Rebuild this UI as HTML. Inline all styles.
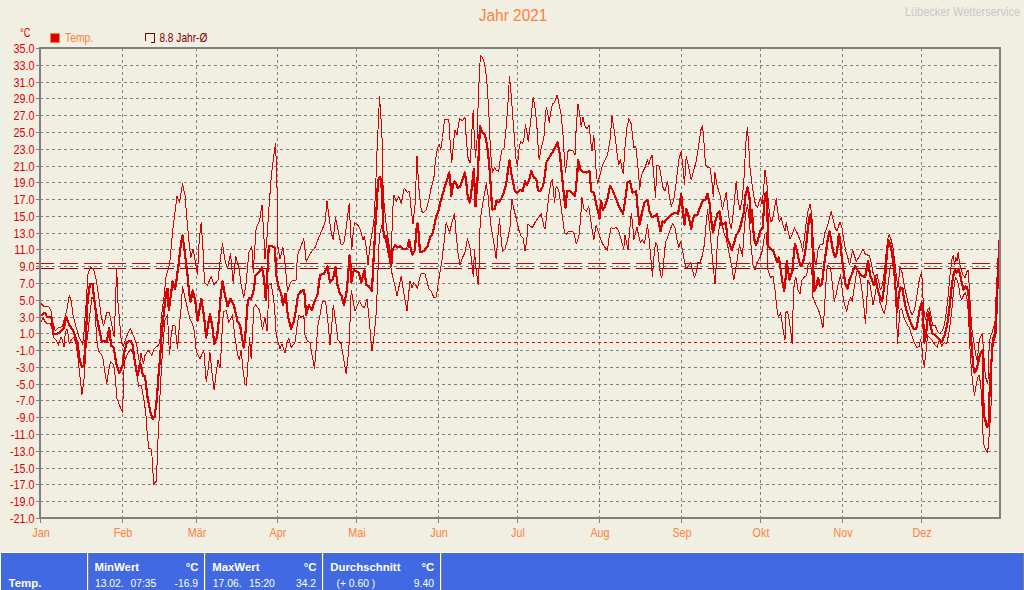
<!DOCTYPE html>
<html><head><meta charset="utf-8"><title>Jahr 2021</title>
<style>
html,body{margin:0;padding:0;}
body{width:1024px;height:590px;background:#f1efe2;position:relative;overflow:hidden;font-family:"Liberation Sans",sans-serif;font-size:12px;color:#fff;}
</style></head><body>
<svg width="1024" height="590" viewBox="0 0 1024 590" style="position:absolute;left:0;top:0">
<g shape-rendering="crispEdges" stroke="#808080" stroke-width="1" fill="none">
<line x1="40" y1="65.5" x2="997" y2="65.5" stroke-dasharray="3 3"/>
<line x1="40" y1="82.5" x2="997" y2="82.5" stroke-dasharray="3 3"/>
<line x1="40" y1="98.5" x2="997" y2="98.5" stroke-dasharray="3 3"/>
<line x1="40" y1="115.5" x2="997" y2="115.5" stroke-dasharray="3 3"/>
<line x1="40" y1="132.5" x2="997" y2="132.5" stroke-dasharray="3 3"/>
<line x1="40" y1="149.5" x2="997" y2="149.5" stroke-dasharray="3 3"/>
<line x1="40" y1="166.5" x2="997" y2="166.5" stroke-dasharray="3 3"/>
<line x1="40" y1="182.5" x2="997" y2="182.5" stroke-dasharray="3 3"/>
<line x1="40" y1="199.5" x2="997" y2="199.5" stroke-dasharray="3 3"/>
<line x1="40" y1="216.5" x2="997" y2="216.5" stroke-dasharray="3 3"/>
<line x1="40" y1="233.5" x2="997" y2="233.5" stroke-dasharray="3 3"/>
<line x1="40" y1="249.5" x2="997" y2="249.5" stroke-dasharray="3 3"/>
<line x1="40" y1="266.5" x2="997" y2="266.5" stroke-dasharray="3 3"/>
<line x1="40" y1="283.5" x2="997" y2="283.5" stroke-dasharray="3 3"/>
<line x1="40" y1="300.5" x2="997" y2="300.5" stroke-dasharray="3 3"/>
<line x1="40" y1="317.5" x2="997" y2="317.5" stroke-dasharray="3 3"/>
<line x1="40" y1="333.5" x2="997" y2="333.5" stroke-dasharray="3 3"/>
<line x1="40" y1="350.5" x2="997" y2="350.5" stroke-dasharray="3 3"/>
<line x1="40" y1="367.5" x2="997" y2="367.5" stroke-dasharray="3 3"/>
<line x1="40" y1="384.5" x2="997" y2="384.5" stroke-dasharray="3 3"/>
<line x1="40" y1="400.5" x2="997" y2="400.5" stroke-dasharray="3 3"/>
<line x1="40" y1="417.5" x2="997" y2="417.5" stroke-dasharray="3 3"/>
<line x1="40" y1="434.5" x2="997" y2="434.5" stroke-dasharray="3 3"/>
<line x1="40" y1="451.5" x2="997" y2="451.5" stroke-dasharray="3 3"/>
<line x1="40" y1="468.5" x2="997" y2="468.5" stroke-dasharray="3 3"/>
<line x1="40" y1="484.5" x2="997" y2="484.5" stroke-dasharray="3 3"/>
<line x1="40" y1="501.5" x2="997" y2="501.5" stroke-dasharray="3 3"/>
<line x1="122.5" y1="48" x2="122.5" y2="517" stroke-dasharray="3 3"/>
<line x1="196.5" y1="48" x2="196.5" y2="517" stroke-dasharray="3 3"/>
<line x1="277.5" y1="48" x2="277.5" y2="517" stroke-dasharray="3 3"/>
<line x1="356.5" y1="48" x2="356.5" y2="517" stroke-dasharray="3 3"/>
<line x1="438.5" y1="48" x2="438.5" y2="517" stroke-dasharray="3 3"/>
<line x1="517.5" y1="48" x2="517.5" y2="517" stroke-dasharray="3 3"/>
<line x1="599.5" y1="48" x2="599.5" y2="517" stroke-dasharray="3 3"/>
<line x1="681.5" y1="48" x2="681.5" y2="517" stroke-dasharray="3 3"/>
<line x1="760.5" y1="48" x2="760.5" y2="517" stroke-dasharray="3 3"/>
<line x1="842.5" y1="48" x2="842.5" y2="517" stroke-dasharray="3 3"/>
<line x1="921.5" y1="48" x2="921.5" y2="517" stroke-dasharray="3 3"/>
<line x1="36" y1="48.5" x2="39" y2="48.5"/>
<line x1="36" y1="65.5" x2="39" y2="65.5"/>
<line x1="36" y1="82.5" x2="39" y2="82.5"/>
<line x1="36" y1="98.5" x2="39" y2="98.5"/>
<line x1="36" y1="115.5" x2="39" y2="115.5"/>
<line x1="36" y1="132.5" x2="39" y2="132.5"/>
<line x1="36" y1="149.5" x2="39" y2="149.5"/>
<line x1="36" y1="166.5" x2="39" y2="166.5"/>
<line x1="36" y1="182.5" x2="39" y2="182.5"/>
<line x1="36" y1="199.5" x2="39" y2="199.5"/>
<line x1="36" y1="216.5" x2="39" y2="216.5"/>
<line x1="36" y1="233.5" x2="39" y2="233.5"/>
<line x1="36" y1="249.5" x2="39" y2="249.5"/>
<line x1="36" y1="266.5" x2="39" y2="266.5"/>
<line x1="36" y1="283.5" x2="39" y2="283.5"/>
<line x1="36" y1="300.5" x2="39" y2="300.5"/>
<line x1="36" y1="317.5" x2="39" y2="317.5"/>
<line x1="36" y1="333.5" x2="39" y2="333.5"/>
<line x1="36" y1="350.5" x2="39" y2="350.5"/>
<line x1="36" y1="367.5" x2="39" y2="367.5"/>
<line x1="36" y1="384.5" x2="39" y2="384.5"/>
<line x1="36" y1="400.5" x2="39" y2="400.5"/>
<line x1="36" y1="417.5" x2="39" y2="417.5"/>
<line x1="36" y1="434.5" x2="39" y2="434.5"/>
<line x1="36" y1="451.5" x2="39" y2="451.5"/>
<line x1="36" y1="468.5" x2="39" y2="468.5"/>
<line x1="36" y1="484.5" x2="39" y2="484.5"/>
<line x1="36" y1="501.5" x2="39" y2="501.5"/>
<line x1="36" y1="518.5" x2="39" y2="518.5"/>
<line x1="40.5" y1="519" x2="40.5" y2="523"/>
<line x1="122.5" y1="519" x2="122.5" y2="523"/>
<line x1="196.5" y1="519" x2="196.5" y2="523"/>
<line x1="277.5" y1="519" x2="277.5" y2="523"/>
<line x1="356.5" y1="519" x2="356.5" y2="523"/>
<line x1="438.5" y1="519" x2="438.5" y2="523"/>
<line x1="517.5" y1="519" x2="517.5" y2="523"/>
<line x1="599.5" y1="519" x2="599.5" y2="523"/>
<line x1="681.5" y1="519" x2="681.5" y2="523"/>
<line x1="760.5" y1="519" x2="760.5" y2="523"/>
<line x1="842.5" y1="519" x2="842.5" y2="523"/>
<line x1="921.5" y1="519" x2="921.5" y2="523"/>
</g>
<g shape-rendering="crispEdges" fill="none">
<line x1="36" y1="263.5" x2="999" y2="263.5" stroke="#dd0000" stroke-width="1" stroke-dasharray="18 6"/>
<line x1="36" y1="268.5" x2="999" y2="268.5" stroke="#900000" stroke-width="1" stroke-dasharray="18 6"/>
<line x1="40" y1="342.5" x2="997" y2="342.5" stroke="#dd0000" stroke-width="1" stroke-dasharray="3 3"/>
</g>
<g id="series" shape-rendering="crispEdges">
<polyline points="40.0,302.5 43.8,306.4 48.9,307.0 51.4,312.1 52.7,321.6 55.2,330.5 59.1,327.3 62.2,326.7 64.8,317.8 67.3,307.6 69.3,295.7 71.1,300.0 73.0,315.2 75.6,325.4 79.4,338.1 82.6,344.5 83.8,335.6 85.1,316.5 86.4,300.0 87.9,274.2 90.4,266.4 93.7,269.3 96.6,282.0 99.1,300.0 101.0,315.2 103.5,326.0 106.7,312.7 109.2,312.3 111.8,325.4 114.3,336.8 115.6,300.0 116.6,268.3 117.1,279.0 117.8,300.0 119.4,319.0 121.3,341.9 123.2,346.4 126.4,336.8 130.2,328.6 134.0,336.8 136.6,344.5 138.5,357.2 139.7,363.5 141.0,353.4 142.3,359.7 143.6,363.5 144.8,355.9 148.0,350.2 151.8,355.3 154.4,348.3 158.8,345.1 160.1,338.1 161.3,319.0 162.6,306.4 163.9,298.0 166.2,275.0 168.8,267.5 170.0,260.0 172.5,232.5 175.0,212.5 177.0,196.2 179.5,202.5 182.5,183.8 185.0,195.0 187.0,220.0 188.8,240.0 190.8,257.5 193.0,248.8 195.5,262.5 197.5,275.0 199.2,240.0 201.2,222.5 203.0,250.0 204.5,282.5 207.5,285.0 211.2,276.2 213.8,285.0 218.0,280.0 220.5,257.5 222.5,243.8 225.0,260.0 227.5,268.8 230.5,253.8 233.2,282.5 235.8,256.2 238.8,267.5 241.2,285.0 243.8,297.5 246.2,282.5 248.8,252.5 251.8,246.2 253.2,272.5 256.2,227.5 259.5,221.2 262.0,205.0 263.8,235.0 265.0,258.8 267.0,237.5 268.8,210.0 271.2,177.5 273.8,155.0 275.5,143.8 276.8,175.0 277.5,217.5 278.0,247.5 280.0,258.8 283.0,247.5 285.0,262.5 287.5,291.2 291.2,281.2 296.0,280.0 297.5,255.0 300.0,248.8 303.8,238.8 306.2,261.2 310.0,253.8 315.0,247.5 318.8,237.5 322.5,228.8 325.0,222.5 327.0,201.2 328.8,215.0 331.2,232.5 333.2,240.0 335.5,217.5 338.0,230.0 341.2,245.0 343.8,243.8 346.2,227.5 349.2,203.8 350.5,230.0 351.8,250.0 353.0,235.0 354.5,222.5 358.8,226.2 361.2,232.5 363.0,240.0 364.5,236.2 366.2,247.5 368.0,265.0 369.5,250.0 371.2,237.5 373.8,222.5 375.5,192.5 376.8,155.0 378.0,130.0 379.5,97.0 381.8,130.0 382.5,155.0 383.2,195.0 384.5,207.5 386.2,225.0 388.0,237.5 390.0,250.0 391.2,262.5 392.5,212.5 393.8,195.0 396.2,201.2 398.8,196.2 401.2,203.8 404.2,188.0 407.5,192.5 409.5,191.2 411.2,210.0 413.0,223.8 415.0,205.0 417.0,156.2 418.8,187.5 421.2,210.0 423.0,213.2 426.2,210.0 428.8,200.0 431.2,187.5 433.8,178.8 435.5,160.0 437.5,147.5 439.5,145.0 440.8,150.0 442.5,137.5 444.5,119.5 448.8,119.5 450.0,140.0 451.8,162.5 453.8,140.0 455.0,130.0 457.0,135.0 459.5,118.8 462.5,120.5 465.0,117.5 466.2,137.5 468.0,157.5 469.5,162.0 470.5,162.5 471.2,145.0 472.5,120.0 473.2,110.0 474.2,135.0 475.5,157.5 477.0,140.0 478.2,102.5 479.5,70.0 480.5,55.5 482.5,57.5 484.5,63.8 486.2,75.0 487.5,90.0 488.8,112.5 490.0,140.0 491.2,160.0 492.5,172.5 494.5,167.5 496.2,170.0 498.8,171.2 500.5,157.5 502.0,150.0 504.2,147.5 506.2,127.5 508.0,102.5 509.5,76.2 510.8,90.0 512.5,112.5 514.5,140.0 515.8,157.5 517.5,166.2 518.8,150.0 520.5,141.2 522.5,143.8 523.8,140.0 525.5,125.0 527.0,132.5 528.2,141.2 530.0,127.5 531.8,110.0 533.2,97.0 535.0,107.5 536.8,125.0 538.0,145.0 539.2,160.0 541.2,147.5 543.8,138.8 545.0,122.5 546.2,107.5 547.5,111.2 549.2,122.5 550.8,112.5 552.5,103.8 554.5,102.5 557.0,95.5 558.8,102.5 561.2,115.0 563.0,135.0 564.5,160.0 565.5,172.5 567.0,160.0 568.0,151.2 571.2,150.0 573.2,151.2 575.0,155.0 576.2,127.5 578.0,103.8 579.5,112.5 581.2,126.2 583.0,117.5 585.0,126.2 587.0,128.8 589.2,125.0 590.5,140.0 592.0,151.2 593.8,135.0 595.0,150.0 596.2,172.5 597.5,183.8 600.0,175.0 602.5,165.0 605.0,160.0 607.5,155.0 610.0,140.0 612.0,116.2 613.8,127.5 615.5,140.0 617.5,157.5 618.8,165.0 620.5,160.0 622.0,168.8 623.2,173.8 625.0,147.5 627.0,127.5 628.8,118.8 631.2,123.8 632.5,135.0 633.8,147.5 635.8,146.2 637.5,162.5 638.8,177.5 639.8,190.0 640.5,180.0 642.5,172.5 645.0,167.5 647.5,160.0 648.8,165.0 650.0,160.0 652.0,155.0 653.8,175.0 655.5,197.5 657.0,165.0 659.5,166.2 661.2,177.5 663.0,187.5 665.0,191.2 667.5,181.2 669.2,195.0 671.2,206.2 673.8,200.0 676.2,182.5 678.8,160.0 681.2,151.2 683.0,167.5 684.5,185.0 686.2,156.2 688.8,167.5 691.2,180.0 693.8,170.0 696.2,161.2 698.8,145.0 700.8,130.0 702.5,125.5 704.0,142.5 705.5,165.0 707.5,167.0 710.0,167.5 712.0,182.5 713.2,196.2 715.0,172.5 717.0,185.0 718.8,191.2 720.5,196.2 722.5,210.0 724.5,200.0 726.2,192.5 728.0,210.0 729.5,222.5 731.2,228.8 733.0,215.0 734.5,200.0 736.2,181.2 738.0,200.0 740.0,210.0 742.0,200.0 743.8,182.5 745.0,158.8 746.2,137.5 747.5,128.0 748.8,147.5 750.0,167.5 751.8,182.5 753.8,196.2 755.5,205.0 757.5,207.5 759.5,200.0 760.5,197.5 762.0,203.8 763.8,187.5 765.0,170.0 766.8,182.5 768.2,200.0 769.5,215.0 771.0,222.0 772.5,220.0 774.5,207.5 776.2,198.8 777.5,210.0 779.2,221.2 781.2,217.5 783.0,225.0 785.0,231.2 786.2,222.5 788.0,231.2 790.0,238.8 792.5,233.8 794.5,228.0 797.0,232.5 799.5,238.8 801.2,243.8 802.5,251.2 804.2,240.0 806.2,222.5 808.0,211.2 810.0,204.5 811.8,215.0 813.2,240.0 814.5,260.0 816.2,265.0 818.0,250.0 820.0,245.0 823.0,243.8 825.0,232.5 827.5,226.2 829.5,217.5 831.2,211.2 833.0,218.8 835.0,227.5 837.0,231.2 838.8,225.0 840.0,222.5 842.0,227.5 843.8,240.0 845.5,250.0 847.5,256.2 849.5,265.0 851.2,257.5 852.5,250.0 854.2,255.0 856.2,261.2 858.8,257.5 861.2,252.5 863.0,248.8 865.0,253.8 867.5,255.0 869.5,255.5 871.2,262.5 873.0,272.5 875.0,277.5 877.0,273.8 878.8,282.5 880.5,290.0 882.5,285.0 884.5,270.0 886.2,252.5 887.5,240.0 889.2,234.5 891.2,240.0 893.0,247.5 894.5,260.0 896.2,275.0 898.0,287.5 900.0,267.5 902.0,272.5 903.8,282.5 905.8,292.5 908.0,302.5 910.0,310.0 912.0,315.0 914.5,310.0 917.0,295.0 918.8,282.5 920.5,275.0 921.8,272.5 922.5,290.0 923.8,310.0 925.5,320.0 927.5,310.0 929.2,307.5 930.8,315.0 932.5,325.0 935.0,325.0 937.5,331.2 940.0,333.8 942.5,330.0 944.5,325.0 946.2,312.5 948.0,297.5 950.0,275.0 951.8,260.0 953.2,255.5 954.5,265.0 955.8,257.5 957.0,261.2 958.2,252.0 959.5,262.5 961.2,270.0 963.0,275.0 965.0,277.5 967.5,270.0 968.0,270.0 969.2,285.0 970.5,310.0 972.0,330.0 973.8,341.9 975.6,353.7 977.4,362.0 978.6,344.2 980.3,337.1 982.5,333.6 982.9,341.9 983.7,353.7 984.5,365.6 985.3,375.1 986.3,379.8 987.5,383.4 988.0,379.8 988.4,365.6 988.9,351.4 989.6,341.9 990.4,335.9 992.2,332.4 994.2,325.0 995.5,320.0 996.8,297.5 998.0,272.5 999.0,240.0" fill="none" stroke="#dd0000" stroke-width="1" stroke-linejoin="round"/>

<polyline points="40.0,323.5 43.2,317.8 45.7,322.9 50.2,323.5 52.7,330.5 54.0,338.1 56.5,340.7 58.4,345.1 61.0,336.8 62.2,339.4 64.1,347.0 65.4,331.8 67.3,329.2 69.2,343.2 71.8,339.4 73.7,337.5 75.6,341.9 77.5,353.4 79.4,371.2 82.0,394.5 84.5,375.0 85.7,350.8 87.6,335.6 88.9,322.9 90.8,306.4 92.0,297.0 94.6,302.0 95.9,325.4 97.2,343.2 98.4,350.8 101.6,354.6 103.5,361.0 104.5,370.0 106.8,383.8 108.8,370.0 110.5,361.2 113.8,365.0 115.6,380.0 116.6,397.5 119.5,405.3 122.4,412.2 123.0,399.5 123.4,380.0 124.5,361.0 127.7,353.4 130.9,348.9 134.0,355.9 135.9,367.3 137.2,377.0 138.8,386.2 141.2,385.0 143.9,399.5 145.8,413.1 146.8,428.7 148.7,448.2 151.1,449.2 152.2,458.0 153.6,484.3 156.1,481.4 156.9,469.7 157.5,447.3 158.9,424.8 159.8,399.5 160.8,380.0 162.5,350.0 165.0,320.0 167.5,315.0 169.5,355.0 171.2,335.0 173.0,325.0 175.0,326.2 177.5,348.8 179.2,327.5 181.2,307.5 182.5,286.2 185.0,298.0 187.5,308.5 190.0,318.8 192.5,323.8 194.5,332.5 196.2,351.2 200.0,358.8 203.8,350.0 206.2,381.2 208.0,370.0 210.0,352.5 212.0,372.5 214.2,390.0 216.2,372.5 218.0,360.0 220.0,367.5 221.2,350.0 222.5,325.0 223.5,311.0 225.0,311.0 226.2,310.0 228.8,322.5 232.5,315.0 235.0,337.5 237.5,353.8 239.2,360.0 241.2,350.0 243.0,370.0 245.0,383.8 246.5,385.0 248.0,362.5 249.5,337.5 251.2,358.8 252.5,335.0 253.8,307.5 255.5,305.0 257.5,307.5 259.5,310.0 262.5,330.0 265.0,317.5 267.0,331.2 268.0,310.0 268.8,285.0 271.2,283.8 273.8,300.0 275.0,315.0 276.2,335.0 280.0,348.8 282.0,343.8 285.0,352.5 287.5,341.2 288.8,338.8 291.2,347.5 295.0,342.5 297.0,327.5 298.8,315.0 301.2,317.5 303.8,315.0 305.0,335.0 307.5,341.2 310.0,342.5 312.5,357.5 314.5,368.8 316.2,347.5 318.0,325.0 320.0,315.0 322.5,301.2 325.5,301.2 327.5,317.5 330.0,345.0 331.8,325.0 333.2,305.0 335.5,320.0 338.0,340.0 341.2,343.8 343.8,360.0 346.2,373.8 348.8,350.0 350.0,322.5 351.2,290.0 353.0,300.0 355.0,311.2 357.5,305.0 359.5,301.2 362.0,306.2 364.5,307.5 367.0,298.8 368.8,315.0 370.5,335.0 372.0,351.2 374.5,332.5 376.2,312.5 377.5,285.0 378.8,247.5 379.5,235.0 382.0,225.0 387.5,250.0 390.0,262.5 392.5,276.2 395.0,286.2 397.0,296.2 398.8,287.5 401.2,276.2 403.8,292.5 407.0,311.2 408.8,292.5 410.0,281.2 412.0,287.5 413.8,282.5 415.8,285.0 417.5,288.8 419.5,278.8 421.2,273.8 425.0,273.8 427.0,281.2 428.8,288.8 431.2,291.2 433.8,297.5 436.2,297.0 438.0,285.0 440.0,272.5 442.0,260.0 443.8,245.0 446.2,222.5 449.5,232.5 452.0,222.5 454.5,213.8 456.2,235.0 458.0,252.5 460.0,265.0 462.5,257.5 465.0,252.5 467.5,238.8 470.0,247.5 471.8,262.5 473.2,276.2 474.5,250.0 475.8,267.5 477.0,276.2 478.2,285.0 479.5,260.0 479.5,235.0 481.2,212.5 483.8,197.5 486.2,183.8 488.0,195.0 489.5,212.5 491.2,227.5 493.8,242.5 496.2,258.8 498.0,235.0 499.5,218.8 500.8,235.0 502.5,251.2 505.0,248.8 507.5,240.0 510.0,227.5 510.8,212.5 512.0,198.8 513.5,207.5 516.0,217.5 518.8,230.0 521.2,236.2 523.0,237.5 525.0,251.2 526.8,240.0 528.0,223.8 530.0,226.2 532.5,227.5 535.0,222.5 537.5,218.8 541.2,213.8 543.8,226.2 545.0,228.8 547.0,212.5 548.8,195.0 551.2,181.2 552.5,180.0 554.5,202.5 556.2,186.2 558.8,190.0 560.5,202.5 562.5,217.5 564.5,232.5 566.2,234.5 568.8,231.2 571.2,231.2 573.8,232.5 576.2,243.8 578.8,237.5 580.5,220.0 582.0,197.5 583.8,208.8 586.2,211.2 588.8,206.2 591.2,223.8 593.8,240.0 596.2,225.0 598.0,231.2 600.0,237.5 602.5,243.8 605.0,247.5 607.5,250.0 609.2,236.2 611.2,227.5 613.8,228.8 616.2,227.5 618.8,231.2 621.2,240.0 623.8,248.8 625.0,235.0 626.2,241.2 628.0,250.0 629.5,232.5 631.2,213.8 632.5,222.5 633.8,240.0 635.0,235.0 637.0,227.5 638.8,236.2 640.5,242.5 642.5,240.0 644.5,243.8 646.2,232.5 647.5,225.0 649.2,240.0 650.8,257.5 652.5,276.2 653.8,257.5 655.5,242.5 657.5,246.2 659.5,267.5 661.2,277.5 662.5,275.0 663.8,260.0 665.5,242.5 667.5,237.5 670.0,230.0 672.5,223.8 675.0,227.5 677.0,240.0 678.8,247.5 680.5,241.2 682.5,250.0 684.5,262.5 686.2,268.8 688.8,265.0 690.5,262.5 692.5,270.0 694.5,277.5 696.2,272.5 698.0,262.5 700.0,262.5 702.5,255.0 704.5,243.8 706.2,222.5 707.5,210.0 709.5,225.0 711.2,245.0 713.0,265.0 715.0,283.8 716.2,265.0 717.5,240.0 719.5,225.0 721.2,216.2 722.5,226.2 724.5,235.0 726.2,238.8 728.0,247.5 730.0,257.5 732.0,267.5 733.8,280.0 735.5,270.0 737.5,257.5 739.5,245.0 741.2,251.2 742.5,256.2 743.8,235.0 745.5,215.0 747.5,205.0 749.5,222.5 751.2,247.5 753.0,265.0 755.0,270.0 757.0,262.5 760.0,257.5 762.5,250.0 764.5,235.0 766.2,232.5 767.5,252.5 768.0,270.0 770.5,277.5 773.0,276.2 775.0,290.0 776.8,307.5 778.5,317.5 780.5,312.5 781.8,320.0 783.5,332.5 785.0,340.0 786.0,312.5 787.5,311.2 789.2,320.0 791.0,332.5 792.2,343.8 793.0,310.0 794.2,282.5 796.0,277.5 798.0,290.0 800.0,293.8 801.8,280.0 804.2,277.5 806.8,275.0 808.0,265.0 809.8,262.5 811.8,270.0 813.0,297.5 815.0,302.5 818.0,308.8 819.8,313.8 821.2,320.0 823.0,327.5 824.2,313.8 825.5,290.0 826.8,270.0 828.0,265.0 830.5,267.5 832.5,285.0 834.2,301.2 836.0,295.0 838.0,285.0 840.5,275.0 842.2,290.0 844.2,303.8 846.8,311.2 848.5,302.5 850.5,297.5 852.2,301.2 853.5,292.5 855.5,280.0 856.8,271.2 858.5,272.5 860.5,280.0 862.5,295.0 864.2,310.0 865.5,323.8 866.8,300.0 868.0,280.0 870.0,285.0 871.8,295.0 873.0,305.0 875.0,295.0 876.8,285.0 878.5,292.5 880.0,302.5 881.8,307.5 884.2,313.8 886.0,305.0 887.5,290.0 889.2,275.0 890.5,265.0 894.2,265.0 895.5,285.0 896.8,322.5 897.5,343.8 898.5,330.0 900.0,310.0 901.8,308.8 904.2,318.8 906.8,323.8 909.2,327.5 911.8,335.0 914.2,342.5 916.8,347.5 919.2,346.2 920.5,340.0 921.8,345.0 923.0,360.0 924.2,366.2 926.0,352.5 927.5,335.0 929.2,337.5 931.8,340.0 934.2,343.8 937.2,347.5 939.2,340.0 941.8,346.2 944.2,342.5 946.8,343.8 948.5,335.0 950.0,325.0 951.8,310.0 953.0,297.5 954.2,285.0 955.5,277.5 957.2,280.0 958.5,285.0 960.0,295.0 961.8,300.0 963.5,295.0 965.5,292.5 967.2,300.0 968.8,317.5 969.2,335.0 969.7,344.2 971.1,365.6 972.6,382.2 974.4,395.2 976.2,384.6 978.0,377.4 979.1,375.1 980.3,382.2 981.5,393.0 981.8,402.1 982.5,416.4 982.9,434.1 984.1,446.0 985.7,449.6 987.4,452.5 988.4,446.0 989.2,434.1 989.8,423.5 990.8,422.3 991.0,406.9 991.2,395.0 991.4,377.4 992.0,359.7 992.8,347.8 994.0,340.7 995.2,337.1 996.3,332.4 997.0,315.0 998.0,290.0 999.0,262.0" fill="none" stroke="#dd0000" stroke-width="1" stroke-linejoin="round"/>

<polyline points="40.0,315.9 45.1,312.7 47.0,317.2 51.4,316.5 53.3,334.3 57.2,334.1 62.2,329.9 64.1,327.3 66.0,316.5 69.2,324.8 73.7,331.8 77.5,343.2 79.4,358.4 81.9,367.3 83.8,364.8 85.1,349.6 86.4,325.4 87.6,300.0 90.0,283.8 92.5,283.8 94.0,298.0 95.9,311.4 98.4,325.4 101.6,340.7 106.7,341.9 109.2,328.0 111.2,345.7 113.7,347.6 116.2,363.5 119.4,373.1 122.6,364.8 124.5,350.8 127.0,341.9 130.9,340.7 132.8,345.7 134.7,361.0 137.2,375.0 138.0,375.0 140.0,362.5 141.2,366.2 143.0,376.2 145.0,376.2 147.8,399.5 150.7,413.1 152.6,419.0 154.6,416.0 156.9,399.5 158.2,378.0 160.1,358.4 161.3,338.1 163.9,312.7 166.2,292.5 167.5,288.8 168.8,310.0 171.2,292.5 172.5,281.2 175.0,288.8 176.2,282.5 178.8,262.5 180.8,245.0 182.5,235.0 184.5,250.0 187.5,275.0 189.0,291.0 190.5,302.0 192.8,290.5 195.2,300.6 197.5,321.0 199.1,311.6 201.4,299.0 203.0,310.0 204.0,316.0 206.2,337.5 208.0,325.0 210.0,313.8 212.5,327.5 214.2,343.8 217.0,337.5 218.8,320.0 220.5,298.0 222.5,281.2 224.5,292.5 227.5,306.2 230.5,298.8 233.8,305.0 235.0,310.0 237.5,321.2 240.0,325.0 242.0,337.5 243.8,347.5 245.5,332.5 247.5,305.0 248.8,298.0 251.2,298.8 253.8,290.0 255.5,275.0 258.8,272.5 262.0,267.5 264.2,280.0 265.8,300.0 267.5,270.0 268.8,246.2 271.2,246.2 275.0,247.5 276.2,275.0 278.8,287.5 281.2,293.8 283.0,305.0 285.5,293.8 287.5,312.5 288.8,320.0 291.2,328.8 293.8,321.2 296.0,310.0 298.0,295.0 301.2,291.2 304.2,290.0 306.2,315.0 308.8,305.0 312.0,310.0 315.0,300.0 317.5,295.0 320.0,275.0 323.8,273.8 327.5,266.2 330.0,282.5 333.0,278.8 335.5,267.5 337.5,285.0 340.0,293.8 341.8,296.2 343.8,305.0 346.2,295.0 348.0,277.5 349.5,255.0 350.5,265.0 351.2,282.5 353.8,270.0 356.2,271.2 358.8,272.5 361.2,282.5 364.5,270.0 366.2,285.0 368.8,286.2 372.0,291.2 373.2,265.0 375.0,235.0 375.5,222.5 376.8,205.0 378.0,180.0 380.0,177.0 381.2,180.0 382.5,205.0 383.2,230.0 384.5,237.5 386.2,236.2 387.5,245.0 388.8,250.0 390.0,260.0 391.2,266.2 392.5,250.0 395.0,245.0 397.5,247.5 400.0,246.2 402.5,248.8 405.0,249.5 407.5,247.5 409.2,240.0 410.8,248.8 412.5,255.0 415.0,250.0 416.2,230.0 417.5,223.0 418.8,235.0 420.0,252.0 423.8,251.2 427.5,246.2 430.0,237.5 432.5,233.8 435.0,222.5 436.2,216.2 438.8,210.0 440.0,203.8 442.5,195.0 445.0,186.2 447.5,178.8 449.2,172.5 450.5,183.8 451.2,196.2 453.0,185.0 454.5,181.2 456.2,183.8 457.5,188.0 460.0,187.0 462.5,180.0 465.0,172.5 466.2,182.5 468.0,198.8 470.0,202.5 471.8,187.5 473.8,168.8 474.5,185.0 475.5,206.2 477.5,180.0 478.8,152.5 480.0,126.2 482.5,132.5 485.0,135.0 487.0,145.0 488.8,160.0 490.0,175.0 491.2,192.5 492.0,209.5 495.0,208.8 496.2,201.2 498.8,202.0 501.2,198.8 503.8,192.5 506.2,183.8 508.0,170.0 509.5,160.0 511.2,172.5 513.0,182.5 515.0,191.2 517.0,193.0 520.0,190.0 522.5,191.2 525.0,181.2 527.0,185.0 528.8,181.2 531.2,171.2 533.8,177.5 536.2,178.8 538.0,190.0 540.0,191.2 543.0,186.2 545.0,175.0 546.2,162.5 550.0,156.2 553.8,150.0 557.5,142.5 560.0,155.0 562.5,181.2 564.5,200.0 565.5,207.5 567.0,191.2 570.0,191.2 572.5,193.8 575.0,196.2 577.0,177.5 578.2,160.0 580.5,170.0 583.8,172.0 586.2,172.5 589.5,171.2 591.2,191.2 593.8,192.5 596.2,203.8 598.8,215.0 599.5,218.8 601.2,201.2 603.0,210.0 605.0,206.2 607.5,198.8 610.0,186.2 612.5,190.0 615.0,196.2 617.5,202.5 620.0,208.8 623.0,213.8 625.0,201.2 627.5,182.5 630.0,181.2 632.5,192.5 636.2,191.2 637.5,207.5 639.5,225.0 642.0,212.5 644.5,202.5 647.5,200.0 649.5,211.2 652.0,217.5 654.5,216.2 657.0,213.8 658.8,222.5 660.5,231.2 662.5,221.2 664.5,222.5 667.0,218.8 670.0,216.2 672.5,213.8 675.0,212.5 678.0,213.8 680.0,202.5 681.2,193.8 683.0,212.5 684.5,225.0 686.2,208.8 688.0,213.8 690.0,222.5 691.2,228.8 693.0,218.8 695.0,215.0 697.5,215.0 700.0,207.5 703.0,200.0 705.5,199.5 707.5,193.8 709.5,202.5 711.2,220.0 713.0,232.5 715.0,222.5 717.5,213.8 719.5,211.2 721.2,225.0 723.8,223.8 725.8,222.5 727.5,238.8 730.0,245.0 731.8,250.0 733.8,243.8 736.2,235.0 739.5,230.0 742.0,220.0 743.8,212.5 745.5,195.0 747.5,187.5 749.5,197.5 750.5,222.5 752.0,210.0 753.0,227.5 754.5,240.0 756.0,245.0 757.5,241.2 760.0,231.2 762.5,228.8 763.8,210.0 765.0,195.0 766.2,192.5 767.5,215.0 768.0,245.0 770.0,248.8 773.0,250.0 775.0,256.2 777.0,262.5 778.8,257.5 780.8,270.0 782.5,282.5 784.2,291.2 785.8,276.2 786.8,261.2 788.0,270.0 789.5,280.0 791.2,275.0 792.5,270.0 793.8,255.0 795.0,243.8 797.0,251.2 798.8,260.0 800.8,266.2 802.5,263.8 804.2,257.5 806.2,245.0 808.0,227.5 809.5,217.5 810.8,213.8 812.0,227.5 813.0,260.0 814.2,291.2 816.2,287.5 818.0,277.5 820.0,286.2 822.0,283.8 823.8,267.5 826.2,250.0 828.0,237.5 829.5,231.2 831.2,240.0 833.0,251.2 835.0,257.5 837.0,252.5 838.8,233.8 840.0,238.8 841.8,257.5 843.8,272.5 845.5,285.0 847.5,288.8 849.5,280.0 852.0,273.8 855.0,266.2 857.5,270.0 860.0,273.8 862.5,276.2 865.0,277.5 867.0,267.5 868.2,261.2 870.0,275.0 872.0,280.0 873.8,285.0 875.5,278.8 877.5,288.8 880.0,297.5 882.0,301.2 883.8,290.0 885.5,272.5 887.0,252.5 888.2,240.0 890.0,243.8 892.0,252.5 893.8,267.5 895.0,280.0 896.2,300.0 897.0,312.5 898.8,295.0 900.5,287.5 902.5,288.8 904.2,300.0 906.2,310.0 908.8,317.5 911.2,323.8 913.8,328.8 916.2,328.8 918.0,320.0 920.0,307.5 921.8,302.5 923.0,315.0 924.2,342.5 926.0,335.0 927.5,320.0 928.8,312.5 930.5,325.0 932.5,333.8 935.0,335.0 937.5,337.5 940.0,340.0 942.2,341.2 944.2,336.2 946.0,330.0 947.5,322.5 949.2,310.0 950.5,297.5 951.8,285.0 953.5,275.0 955.0,270.0 956.8,272.5 958.5,268.8 960.0,273.8 961.8,282.5 963.5,290.0 965.5,286.2 967.2,287.5 968.8,297.5 970.0,315.0 970.2,330.0 971.8,347.8 973.2,365.6 974.4,372.7 976.2,370.3 978.0,363.2 980.3,353.7 982.5,350.2 983.0,365.0 983.3,400.0 983.9,416.9 985.1,418.1 985.7,422.3 986.9,427.0 988.0,426.4 988.6,423.5 988.9,412.8 989.2,402.1 989.8,386.9 990.4,377.4 991.0,365.6 991.6,359.7 992.2,347.8 992.8,340.7 994.0,335.9 995.2,332.4 996.0,310.0 997.2,285.0 998.0,270.0 998.8,255.0 999.3,243.0" fill="none" stroke="#dd0000" stroke-width="2.2" stroke-linejoin="round"/>

</g>
<rect x="40" y="48" width="960" height="470" fill="none" stroke="#808080" stroke-width="2" shape-rendering="crispEdges"/>
<text transform="translate(34.50 52.50) scale(0.900 1)" font-family="Liberation Sans, sans-serif" font-size="12" font-weight="normal" fill="#dd0000" text-anchor="end">35.0</text>
<text transform="translate(34.50 69.50) scale(0.900 1)" font-family="Liberation Sans, sans-serif" font-size="12" font-weight="normal" fill="#dd0000" text-anchor="end">33.0</text>
<text transform="translate(34.50 86.50) scale(0.900 1)" font-family="Liberation Sans, sans-serif" font-size="12" font-weight="normal" fill="#dd0000" text-anchor="end">31.0</text>
<text transform="translate(34.50 102.50) scale(0.900 1)" font-family="Liberation Sans, sans-serif" font-size="12" font-weight="normal" fill="#dd0000" text-anchor="end">29.0</text>
<text transform="translate(34.50 119.50) scale(0.900 1)" font-family="Liberation Sans, sans-serif" font-size="12" font-weight="normal" fill="#dd0000" text-anchor="end">27.0</text>
<text transform="translate(34.50 136.50) scale(0.900 1)" font-family="Liberation Sans, sans-serif" font-size="12" font-weight="normal" fill="#dd0000" text-anchor="end">25.0</text>
<text transform="translate(34.50 153.50) scale(0.900 1)" font-family="Liberation Sans, sans-serif" font-size="12" font-weight="normal" fill="#dd0000" text-anchor="end">23.0</text>
<text transform="translate(34.50 170.50) scale(0.900 1)" font-family="Liberation Sans, sans-serif" font-size="12" font-weight="normal" fill="#dd0000" text-anchor="end">21.0</text>
<text transform="translate(34.50 186.50) scale(0.900 1)" font-family="Liberation Sans, sans-serif" font-size="12" font-weight="normal" fill="#dd0000" text-anchor="end">19.0</text>
<text transform="translate(34.50 203.50) scale(0.900 1)" font-family="Liberation Sans, sans-serif" font-size="12" font-weight="normal" fill="#dd0000" text-anchor="end">17.0</text>
<text transform="translate(34.50 220.50) scale(0.900 1)" font-family="Liberation Sans, sans-serif" font-size="12" font-weight="normal" fill="#dd0000" text-anchor="end">15.0</text>
<text transform="translate(34.50 237.50) scale(0.900 1)" font-family="Liberation Sans, sans-serif" font-size="12" font-weight="normal" fill="#dd0000" text-anchor="end">13.0</text>
<text transform="translate(34.50 253.50) scale(0.900 1)" font-family="Liberation Sans, sans-serif" font-size="12" font-weight="normal" fill="#dd0000" text-anchor="end">11.0</text>
<text transform="translate(34.50 270.50) scale(0.900 1)" font-family="Liberation Sans, sans-serif" font-size="12" font-weight="normal" fill="#dd0000" text-anchor="end">9.0</text>
<text transform="translate(34.50 287.50) scale(0.900 1)" font-family="Liberation Sans, sans-serif" font-size="12" font-weight="normal" fill="#dd0000" text-anchor="end">7.0</text>
<text transform="translate(34.50 304.50) scale(0.900 1)" font-family="Liberation Sans, sans-serif" font-size="12" font-weight="normal" fill="#dd0000" text-anchor="end">5.0</text>
<text transform="translate(34.50 321.50) scale(0.900 1)" font-family="Liberation Sans, sans-serif" font-size="12" font-weight="normal" fill="#dd0000" text-anchor="end">3.0</text>
<text transform="translate(34.50 337.50) scale(0.900 1)" font-family="Liberation Sans, sans-serif" font-size="12" font-weight="normal" fill="#dd0000" text-anchor="end">1.0</text>
<text transform="translate(34.50 354.50) scale(0.900 1)" font-family="Liberation Sans, sans-serif" font-size="12" font-weight="normal" fill="#dd0000" text-anchor="end">-1.0</text>
<text transform="translate(34.50 371.50) scale(0.900 1)" font-family="Liberation Sans, sans-serif" font-size="12" font-weight="normal" fill="#dd0000" text-anchor="end">-3.0</text>
<text transform="translate(34.50 388.50) scale(0.900 1)" font-family="Liberation Sans, sans-serif" font-size="12" font-weight="normal" fill="#dd0000" text-anchor="end">-5.0</text>
<text transform="translate(34.50 404.50) scale(0.900 1)" font-family="Liberation Sans, sans-serif" font-size="12" font-weight="normal" fill="#dd0000" text-anchor="end">-7.0</text>
<text transform="translate(34.50 421.50) scale(0.900 1)" font-family="Liberation Sans, sans-serif" font-size="12" font-weight="normal" fill="#dd0000" text-anchor="end">-9.0</text>
<text transform="translate(34.50 438.50) scale(0.900 1)" font-family="Liberation Sans, sans-serif" font-size="12" font-weight="normal" fill="#dd0000" text-anchor="end">-11.0</text>
<text transform="translate(34.50 455.50) scale(0.900 1)" font-family="Liberation Sans, sans-serif" font-size="12" font-weight="normal" fill="#dd0000" text-anchor="end">-13.0</text>
<text transform="translate(34.50 472.50) scale(0.900 1)" font-family="Liberation Sans, sans-serif" font-size="12" font-weight="normal" fill="#dd0000" text-anchor="end">-15.0</text>
<text transform="translate(34.50 488.50) scale(0.900 1)" font-family="Liberation Sans, sans-serif" font-size="12" font-weight="normal" fill="#dd0000" text-anchor="end">-17.0</text>
<text transform="translate(34.50 505.50) scale(0.900 1)" font-family="Liberation Sans, sans-serif" font-size="12" font-weight="normal" fill="#dd0000" text-anchor="end">-19.0</text>
<text transform="translate(34.50 522.50) scale(0.900 1)" font-family="Liberation Sans, sans-serif" font-size="12" font-weight="normal" fill="#dd0000" text-anchor="end">-21.0</text>
<text transform="translate(41.00 537.00) scale(0.900 1)" font-family="Liberation Sans, sans-serif" font-size="12" font-weight="normal" fill="#ff8040" text-anchor="middle">Jan</text>
<text transform="translate(123.00 537.00) scale(0.900 1)" font-family="Liberation Sans, sans-serif" font-size="12" font-weight="normal" fill="#ff8040" text-anchor="middle">Feb</text>
<text transform="translate(197.00 537.00) scale(0.900 1)" font-family="Liberation Sans, sans-serif" font-size="12" font-weight="normal" fill="#ff8040" text-anchor="middle">Mär</text>
<text transform="translate(278.00 537.00) scale(0.900 1)" font-family="Liberation Sans, sans-serif" font-size="12" font-weight="normal" fill="#ff8040" text-anchor="middle">Apr</text>
<text transform="translate(357.00 537.00) scale(0.900 1)" font-family="Liberation Sans, sans-serif" font-size="12" font-weight="normal" fill="#ff8040" text-anchor="middle">Mai</text>
<text transform="translate(439.00 537.00) scale(0.900 1)" font-family="Liberation Sans, sans-serif" font-size="12" font-weight="normal" fill="#ff8040" text-anchor="middle">Jun</text>
<text transform="translate(518.00 537.00) scale(0.900 1)" font-family="Liberation Sans, sans-serif" font-size="12" font-weight="normal" fill="#ff8040" text-anchor="middle">Jul</text>
<text transform="translate(600.00 537.00) scale(0.900 1)" font-family="Liberation Sans, sans-serif" font-size="12" font-weight="normal" fill="#ff8040" text-anchor="middle">Aug</text>
<text transform="translate(682.00 537.00) scale(0.900 1)" font-family="Liberation Sans, sans-serif" font-size="12" font-weight="normal" fill="#ff8040" text-anchor="middle">Sep</text>
<text transform="translate(761.00 537.00) scale(0.900 1)" font-family="Liberation Sans, sans-serif" font-size="12" font-weight="normal" fill="#ff8040" text-anchor="middle">Okt</text>
<text transform="translate(843.00 537.00) scale(0.900 1)" font-family="Liberation Sans, sans-serif" font-size="12" font-weight="normal" fill="#ff8040" text-anchor="middle">Nov</text>
<text transform="translate(922.00 537.00) scale(0.900 1)" font-family="Liberation Sans, sans-serif" font-size="12" font-weight="normal" fill="#ff8040" text-anchor="middle">Dez</text>
<text transform="translate(513.10 21.00) scale(0.930 1)" font-family="Liberation Sans, sans-serif" font-size="16.6" font-weight="normal" fill="#ff8040" text-anchor="middle">Jahr 2021</text>
<text transform="translate(1020.00 16.00) scale(0.915 1)" font-family="Liberation Sans, sans-serif" font-size="12" font-weight="normal" fill="#c8c8c8" text-anchor="end">Lübecker Wetterservice</text>
<text transform="translate(20.00 37.00) scale(0.780 1)" font-family="Liberation Sans, sans-serif" font-size="12" font-weight="normal" fill="#dd0000" text-anchor="start">°C</text>
<rect x="50.5" y="33.5" width="9" height="9" fill="#dd0000" stroke="#ff8040" stroke-width="1" shape-rendering="crispEdges"/>
<text transform="translate(65.00 42.00) scale(0.860 1)" font-family="Liberation Sans, sans-serif" font-size="12" font-weight="normal" fill="#ff8040" text-anchor="start">Temp.</text>
<path d="M145.5 41 V33.5 H154.5 V42.5 H151" fill="none" stroke="#800000" stroke-width="1" shape-rendering="crispEdges"/>
<text transform="translate(159.40 42.00) scale(0.846 1)" font-family="Liberation Sans, sans-serif" font-size="12" font-weight="normal" fill="#800000" text-anchor="start">8.8 Jahr-Ø</text>
<g shape-rendering="crispEdges">
<rect x="0" y="552" width="1024" height="38" fill="#fffff6"/>
<rect x="1" y="553" width="86" height="37" fill="#4169e1"/>
<rect x="89" y="553" width="115" height="37" fill="#4169e1"/>
<rect x="206" y="553" width="116" height="37" fill="#4169e1"/>
<rect x="324" y="553" width="116" height="37" fill="#4169e1"/>
<rect x="442" y="553" width="581" height="37" fill="#4169e1"/>
<rect x="88" y="553" width="1" height="37" fill="#808080"/>
<rect x="205" y="553" width="1" height="37" fill="#808080"/>
<rect x="323" y="553" width="1" height="37" fill="#808080"/>
<rect x="441" y="553" width="1" height="37" fill="#808080"/>
<rect x="1023" y="553" width="1" height="37" fill="#808080"/>
</g>
<text transform="translate(8.60 587.00) scale(1.000 1)" font-family="Liberation Sans, sans-serif" font-size="11.4" font-weight="bold" fill="#ffffff" text-anchor="start">Temp.</text>
<text transform="translate(94.40 571.00) scale(1.000 1)" font-family="Liberation Sans, sans-serif" font-size="11.4" font-weight="bold" fill="#ffffff" text-anchor="start">MinWert</text>
<text transform="translate(198.50 571.00) scale(1.000 1)" font-family="Liberation Sans, sans-serif" font-size="11.4" font-weight="bold" fill="#ffffff" text-anchor="end">°C</text>
<text transform="translate(95.00 587.00) scale(0.940 1)" font-family="Liberation Sans, sans-serif" font-size="11" font-weight="normal" fill="#ffffff" text-anchor="start">13.02.</text>
<text transform="translate(130.40 587.00) scale(0.940 1)" font-family="Liberation Sans, sans-serif" font-size="11" font-weight="normal" fill="#ffffff" text-anchor="start">07:35</text>
<text transform="translate(198.10 587.00) scale(0.940 1)" font-family="Liberation Sans, sans-serif" font-size="11" font-weight="normal" fill="#ffffff" text-anchor="end">-16.9</text>
<text transform="translate(212.20 571.00) scale(1.000 1)" font-family="Liberation Sans, sans-serif" font-size="11.4" font-weight="bold" fill="#ffffff" text-anchor="start">MaxWert</text>
<text transform="translate(316.50 571.00) scale(1.000 1)" font-family="Liberation Sans, sans-serif" font-size="11.4" font-weight="bold" fill="#ffffff" text-anchor="end">°C</text>
<text transform="translate(212.80 587.00) scale(0.940 1)" font-family="Liberation Sans, sans-serif" font-size="11" font-weight="normal" fill="#ffffff" text-anchor="start">17.06.</text>
<text transform="translate(248.90 587.00) scale(0.940 1)" font-family="Liberation Sans, sans-serif" font-size="11" font-weight="normal" fill="#ffffff" text-anchor="start">15:20</text>
<text transform="translate(316.10 587.00) scale(0.940 1)" font-family="Liberation Sans, sans-serif" font-size="11" font-weight="normal" fill="#ffffff" text-anchor="end">34.2</text>
<text transform="translate(330.20 571.00) scale(1.000 1)" font-family="Liberation Sans, sans-serif" font-size="11.4" font-weight="bold" fill="#ffffff" text-anchor="start">Durchschnitt</text>
<text transform="translate(434.20 571.00) scale(1.000 1)" font-family="Liberation Sans, sans-serif" font-size="11.4" font-weight="bold" fill="#ffffff" text-anchor="end">°C</text>
<text transform="translate(336.50 587.00) scale(0.940 1)" font-family="Liberation Sans, sans-serif" font-size="11" font-weight="normal" fill="#ffffff" text-anchor="start">(+ 0.60 )</text>
<text transform="translate(433.90 587.00) scale(0.940 1)" font-family="Liberation Sans, sans-serif" font-size="11" font-weight="normal" fill="#ffffff" text-anchor="end">9.40</text>
</svg>
</body></html>
